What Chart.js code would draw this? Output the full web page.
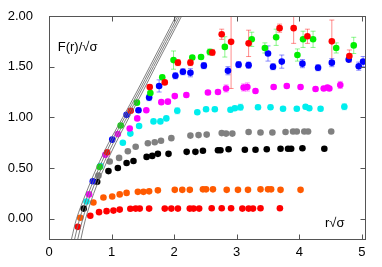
<!DOCTYPE html>
<html>
<head>
<meta charset="utf-8">
<script src="https://cdn.jsdelivr.net/npm/chart.js@4/dist/chart.umd.min.js"></script>
<style>
  html, body { margin: 0; padding: 0; background: #fff; }
</style>
</head>
<body>
<canvas id="c" width="382" height="267"></canvas>
<script>
// axis ticks
const xTicks = [0, 1, 2, 3, 4, 5];
const yTicks = [0, 0.5, 1, 1.5, 2];

// reference curves: r values read at fixed F levels
const curveF = [-0.2, 0, 0.25, 0.5, 0.75, 1.0, 1.25, 1.5, 1.75, 2.0];
const curve1R = [0.36, 0.44, 0.59, 0.76, 0.955, 1.18, 1.40, 1.61, 1.82, 2.03];
const curve2R = [0.41, 0.49, 0.63, 0.80, 0.99, 1.21, 1.43, 1.64, 1.85, 2.06];
const curve3R = [0.46, 0.54, 0.67, 0.84, 1.03, 1.245, 1.46, 1.67, 1.88, 2.09];
const curve4R = [0.51, 0.585, 0.715, 0.88, 1.07, 1.28, 1.495, 1.70, 1.91, 2.12];

// data series (r*sqrt(sigma), F/sqrt(sigma), error)
const redTopR = [0.93, 1.305, 1.61, 1.85, 2.06, 2.26, 2.61, 2.76, 2.91, 3.19, 3.685, 3.91, 4.13, 4.52, 4.80];
const redTopF = [0.655, 1.065, 1.30, 1.345, 1.54, 1.54, 1.64, 1.82, 1.745, 1.73, 1.88, 1.88, 1.80, 1.75, 1.605];
const redTopErr = [0.01, 0.01, 0.02, 0.02, 0.03, 0.03, 0.03, 0.05, 0.46, 0.13, 0.04, 0.15, 0.07, 0.21, 0.06];

const greenR = [0.81, 1.145, 1.405, 1.62, 1.81, 1.99, 2.29, 2.43, 2.57, 2.81, 3.24, 3.45, 3.63, 3.97, 4.06, 4.22, 4.59, 4.87];
const greenF = [0.51, 0.92, 1.145, 1.24, 1.395, 1.565, 1.59, 1.595, 1.645, 1.695, 1.77, 1.685, 1.79, 1.615, 1.77, 1.77, 1.685, 1.71];
const greenErr = [0.01, 0.01, 0.02, 0.02, 0.02, 0.09, 0.02, 0.02, 0.03, 0.10, 0.07, 0.05, 0.08, 0.06, 0.08, 0.08, 0.05, 0.08];

const blueR = [0.70, 1.01, 1.24, 1.43, 1.60, 1.76, 2.02, 2.14, 2.26, 2.475, 2.86, 3.03, 3.19, 3.50, 3.58, 3.72, 4.05, 4.30, 4.52, 4.79, 4.95, 5.02];
const blueF = [0.37, 0.78, 1.025, 1.07, 1.195, 1.31, 1.41, 1.45, 1.44, 1.51, 1.46, 1.52, 1.515, 1.63, 1.50, 1.55, 1.53, 1.49, 1.54, 1.57, 1.505, 1.55];
const blueErr = [0.01, 0.01, 0.01, 0.02, 0.03, 0.06, 0.03, 0.03, 0.04, 0.03, 0.04, 0.03, 0.03, 0.075, 0.03, 0.065, 0.04, 0.03, 0.04, 0.02, 0.04, 0.05];

const magentaR = [0.64, 0.90, 1.10, 1.29, 1.41, 1.555, 1.795, 1.90, 2.01, 2.195, 2.54, 2.70, 2.83, 3.11, 3.17, 3.30, 3.59, 3.80, 4.02, 4.26, 4.39, 4.45, 4.48, 4.655];
const magentaF = [0.24, 0.63, 0.835, 0.89, 0.99, 1.07, 1.15, 1.155, 1.21, 1.22, 1.245, 1.25, 1.285, 1.295, 1.30, 1.26, 1.30, 1.31, 1.30, 1.28, 1.285, 1.295, 1.285, 1.32];
const magentaErr = [0, 0, 0, 0, 0.01, 0.01, 0.015, 0.015, 0.02, 0.02, 0.02, 0.02, 0.035, 0.035, 0.04, 0.02, 0.02, 0.02, 0.02, 0.02, 0.02, 0.02, 0.02, 0.035];

const cyanR = [0.60, 0.82, 1.18, 1.30, 1.44, 1.67, 1.78, 1.875, 2.05, 2.37, 2.51, 2.65, 2.90, 2.97, 3.06, 3.34, 3.54, 3.74, 3.96, 4.10, 4.16, 4.34, 4.72];
const cyanF = [0.17, 0.52, 0.75, 0.84, 0.915, 0.96, 0.96, 0.99, 1.065, 1.05, 1.08, 1.08, 1.075, 1.09, 1.10, 1.10, 1.10, 1.085, 1.085, 1.105, 1.09, 1.085, 1.105];
const cyanErr = [0, 0, 0, 0, 0.01, 0.01, 0.01, 0.02, 0.03, 0.02, 0.02, 0.02, 0.02, 0.02, 0.03, 0.02, 0.02, 0.02, 0.02, 0.02, 0.02, 0.02, 0.03];

const grayR = [0.79, 0.97, 1.12, 1.26, 1.385, 1.58, 1.69, 1.79, 1.955, 2.26, 2.39, 2.52, 2.76, 2.83, 2.93, 3.19, 3.38, 3.57, 3.78, 3.90, 3.96, 4.08, 4.14, 4.51];
const grayF = [0.425, 0.565, 0.60, 0.665, 0.71, 0.745, 0.755, 0.77, 0.795, 0.82, 0.825, 0.83, 0.845, 0.84, 0.84, 0.855, 0.85, 0.85, 0.855, 0.86, 0.86, 0.86, 0.86, 0.86];

const blackR = [0.555, 0.77, 0.95, 1.10, 1.24, 1.35, 1.56, 1.65, 1.74, 1.91, 2.20, 2.34, 2.46, 2.70, 2.74, 2.87, 3.13, 3.30, 3.48, 3.70, 3.82, 3.87, 4.05, 4.40];
const blackF = [0.10, 0.365, 0.47, 0.50, 0.55, 0.57, 0.61, 0.62, 0.64, 0.64, 0.66, 0.66, 0.67, 0.675, 0.675, 0.685, 0.68, 0.68, 0.685, 0.69, 0.69, 0.69, 0.695, 0.69];

const orangeR = [0.50, 0.71, 0.87, 1.01, 1.13, 1.24, 1.42, 1.51, 1.60, 1.74, 2.01, 2.13, 2.25, 2.46, 2.51, 2.62, 2.84, 3.02, 3.18, 3.38, 3.50, 3.55, 3.70, 4.02];
const orangeF = [0.01, 0.16, 0.21, 0.22, 0.24, 0.255, 0.265, 0.265, 0.27, 0.28, 0.285, 0.285, 0.285, 0.29, 0.29, 0.29, 0.285, 0.285, 0.285, 0.29, 0.29, 0.29, 0.285, 0.285];

const redLowR = [0.46, 0.66, 0.80, 0.92, 1.03, 1.13, 1.30, 1.385, 1.45, 1.60, 1.85, 1.955, 2.06, 2.25, 2.31, 2.40, 2.60, 2.76, 2.91, 3.09, 3.19, 3.26, 3.38, 3.69];
const redLowF = [-0.08, 0.03, 0.065, 0.075, 0.08, 0.09, 0.098, 0.10, 0.10, 0.10, 0.10, 0.10, 0.10, 0.10, 0.10, 0.10, 0.104, 0.104, 0.104, 0.10, 0.10, 0.10, 0.104, 0.104];

const pts = (xs, ys) => xs.map((x, i) => ({ x: x, y: ys[i] }));

function scatter(xs, ys, color, errs) {
  return {
    type: 'scatter',
    data: pts(xs, ys),
    backgroundColor: color,
    borderWidth: 0,
    pointRadius: 3.3,
    pointHoverRadius: 3.3,
    errs: errs || null
  };
}

function curve(xs) {
  return {
    type: 'line',
    data: pts(xs, curveF),
    borderColor: '#707070',
    borderWidth: 0.9,
    pointRadius: 0,
    tension: 0.35,
    fill: false
  };
}

const errorBars = {
  id: 'errorBars',
  beforeDatasetsDraw(chart) {
    const { ctx, chartArea: a, scales: { x, y } } = chart;
    ctx.save();
    ctx.beginPath();
    ctx.rect(a.left, a.top, a.right - a.left, a.bottom - a.top);
    ctx.clip();
    ctx.lineWidth = 1;
    chart.data.datasets.forEach((ds) => {
      if (!ds.errs) return;
      ctx.strokeStyle = ds.backgroundColor;
      ctx.globalAlpha = 0.45;
      ds.data.forEach((p, i) => {
        const e = ds.errs[i];
        if (!e) return;
        const px = x.getPixelForValue(p.x);
        const y1 = y.getPixelForValue(p.y + e);
        const y2 = y.getPixelForValue(p.y - e);
        ctx.beginPath();
        ctx.moveTo(px, y1); ctx.lineTo(px, y2);
        ctx.moveTo(px - 2.5, y1); ctx.lineTo(px + 2.5, y1);
        ctx.moveTo(px - 2.5, y2); ctx.lineTo(px + 2.5, y2);
        ctx.stroke();
      });
    });
    ctx.restore();
  }
};

const frame = {
  id: 'frame',
  afterDraw(chart) {
    const { ctx, chartArea: a, scales: { x, y } } = chart;
    ctx.save();
    ctx.strokeStyle = '#555';
    ctx.lineWidth = 1;
    const L = Math.round(a.left) + 0.5, R = Math.round(a.right) + 0.5;
    const T = Math.round(a.top) + 0.5, B = Math.round(a.bottom) + 0.5;
    ctx.strokeRect(L, T, R - L, B - T);
    ctx.beginPath();
    xTicks.forEach((v) => {
      const px = Math.round(x.getPixelForValue(v)) + 0.5;
      ctx.moveTo(px, B); ctx.lineTo(px, B - 5);
      ctx.moveTo(px, T); ctx.lineTo(px, T + 5);
    });
    yTicks.forEach((v) => {
      const py = Math.round(y.getPixelForValue(v)) + 0.5;
      ctx.moveTo(L, py); ctx.lineTo(L + 5, py);
      ctx.moveTo(R, py); ctx.lineTo(R - 5, py);
    });
    ctx.stroke();

    ctx.fillStyle = '#000';
    ctx.font = '13px "Liberation Sans", Arial, sans-serif';
    ctx.textBaseline = 'middle';
    ctx.textAlign = 'left';
    ctx.fillText('F(r)/\u221A\u03C3', x.getPixelForValue(0.14), y.getPixelForValue(1.69));
    ctx.fillText('r\u221A\u03C3', x.getPixelForValue(4.41), y.getPixelForValue(-0.045));
    ctx.restore();
  }
};

new Chart(document.getElementById('c'), {
  data: {
    datasets: [
      curve(curve1R), curve(curve2R), curve(curve3R), curve(curve4R),
      scatter(redTopR, redTopF, '#ff0000', redTopErr),
      scatter(greenR, greenF, '#00ee00', greenErr),
      scatter(blueR, blueF, '#0000ff', blueErr),
      scatter(magentaR, magentaF, '#ff00ff', magentaErr),
      scatter(cyanR, cyanF, '#00eeee', cyanErr),
      scatter(grayR, grayF, '#808080'),
      scatter(blackR, blackF, '#000000'),
      scatter(orangeR, orangeF, '#ff5a00'),
      scatter(redLowR, redLowF, '#ff0000')
    ]
  },
  options: {
    responsive: false,
    animation: false,
    events: [],
    layout: { padding: { left: 0, right: 17, top: 16, bottom: 0 } },
    plugins: { legend: { display: false }, tooltip: { enabled: false } },
    scales: {
      x: {
        type: 'linear',
        min: 0,
        max: 5.05,
        grid: { display: false },
        border: { display: false },
        afterBuildTicks: (s) => { s.ticks = xTicks.map((v) => ({ value: v })); },
        afterFit: (s) => { s.height = 28; },
        ticks: {
          color: '#000',
          padding: -2,
          font: { family: '"Liberation Sans", Arial, sans-serif', size: 13 },
          callback: (v) => String(v)
        }
      },
      y: {
        type: 'linear',
        min: -0.2,
        max: 2.0,
        grid: { display: false },
        border: { display: false },
        afterBuildTicks: (s) => { s.ticks = yTicks.map((v) => ({ value: v })); },
        afterFit: (s) => { s.width = 49; },
        ticks: {
          color: '#000',
          padding: 8,
          font: { family: '"Liberation Sans", Arial, sans-serif', size: 13 },
          callback: (v) => Number(v).toFixed(2)
        }
      }
    }
  },
  plugins: [errorBars, frame]
});
</script>
</body>
</html>
